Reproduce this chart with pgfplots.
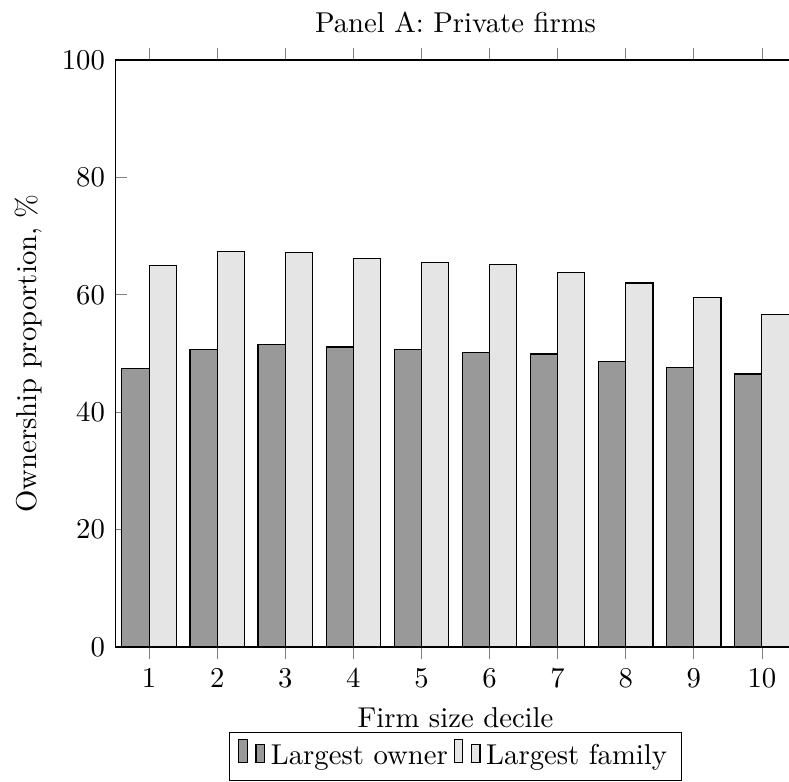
\documentclass[border=0pt]{standalone}
\usepackage{pgfplots}
\pgfplotsset{compat=1.18}
\begin{document}
\begin{tikzpicture}
\begin{axis}[
  scale only axis,
  width=237.2pt, height=204.5pt,
  ybar=0pt, bar width=0.4,
  xmin=0.5, xmax=10.5, ymin=0, ymax=100,
  xtick={1,2,3,4,5,6,7,8,9,10},
  ytick={0,20,40,60,80,100},
  ytick pos=left,
  title={Panel A: Private firms},
  xlabel={Firm size decile},
  ylabel={Ownership proportion, \%},
  legend columns=2,
  legend style={at={(0.5,-0.145)}, anchor=north, draw=black},
]
\addplot[fill=black!40, draw=black] coordinates {(1,47.4) (2,50.7) (3,51.5) (4,51.1) (5,50.7) (6,50.2) (7,49.9) (8,48.7) (9,47.6) (10,46.5)};
\addplot[fill=black!10, draw=black] coordinates {(1,65.0) (2,67.3) (3,67.2) (4,66.2) (5,65.5) (6,65.2) (7,63.8) (8,62.0) (9,59.6) (10,56.6)};
\legend{Largest owner, Largest family}
\end{axis}
\pgfresetboundingbox
\path[use as bounding box] (-40.1pt,-47.0pt) rectangle (234.8pt,225.4pt);
\end{tikzpicture}
\end{document}
